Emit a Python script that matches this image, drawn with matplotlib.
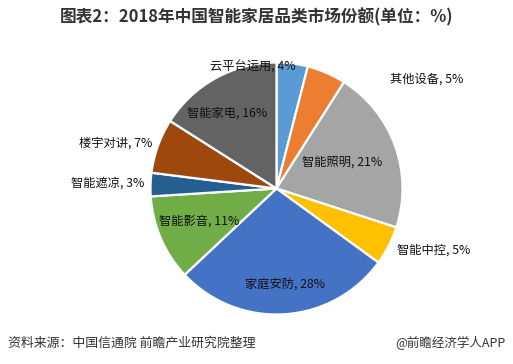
import matplotlib
matplotlib.use('Agg')
import matplotlib.pyplot as plt

plt.rcParams['font.family'] = ['Noto Sans CJK SC', 'DejaVu Sans']

# 品类与份额(%)，从12点方向顺时针
categories = ['云平台运用', '其他设备', '智能照明', '智能中控', '家庭安防',
              '智能影音', '智能遮凉', '楼宇对讲', '智能家电']
shares = [4, 5, 21, 5, 28, 11, 3, 7, 16]
colors = ['#5B9BD5', '#ED7D31', '#A5A5A5', '#FFC000', '#4472C4',
          '#70AD47', '#255E91', '#9E480E', '#636363']

# 标签位置(饼图半径为1的坐标)
label_pos = [(-0.19, 0.96), (1.19, 0.87), (0.52, 0.21), (1.25, -0.49),
             (0.07, -0.76), (-0.61, -0.26), (-1.34, 0.04), (-1.28, 0.36),
             (-0.39, 0.60)]

cx, cy, r = 276.5, 188.5, 126
fig = plt.figure(figsize=(5.13, 3.64), dpi=100)
fig.patch.set_facecolor('white')

ax = fig.add_axes([(cx - r) / 513, (364 - cy - r) / 364, 2 * r / 513, 2 * r / 364])
ax.pie(shares, colors=colors, startangle=90, counterclock=False, radius=1,
       wedgeprops=dict(edgecolor='white', linewidth=1.6))
ax.set_xlim(-1, 1)
ax.set_ylim(-1, 1)
ax.set_aspect('equal')
ax.axis('off')

for name, v, (x, y) in zip(categories, shares, label_pos):
    ax.text(x, y, f'{name}, {v}%', ha='center', va='center', fontsize=8.8,
            color='#111111', clip_on=False)

fig.text(0.5, 1 - 17 / 364, '图表2：2018年中国智能家居品类市场份额(单位：%)',
         ha='center', va='center', fontsize=12, fontweight='bold', color='#333333')
fig.text(8 / 513, 1 - 343 / 364, '资料来源：中国信通院 前瞻产业研究院整理',
         ha='left', va='center', fontsize=9.3, color='#333333')
fig.text(505 / 513, 1 - 343 / 364, '@前瞻经济学人APP',
         ha='right', va='center', fontsize=9, color='#333333')

fig.savefig('out.png', dpi=100, facecolor='white')
